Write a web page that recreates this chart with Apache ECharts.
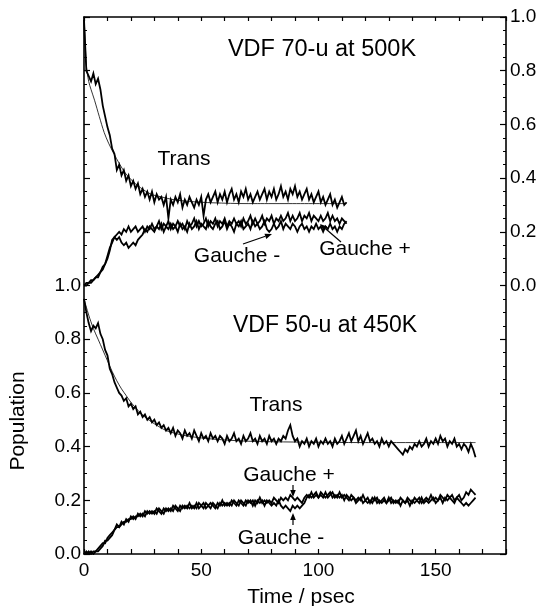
<!DOCTYPE html>
<html><head><meta charset="utf-8">
<script src="https://cdn.jsdelivr.net/npm/echarts@6/dist/echarts.min.js"></script>
<style>html,body{margin:0;padding:0;background:#fff}#c{width:542px;height:606px}</style>
</head><body><div id="c"></div>
<script>
// ---- Data (sampled every 1 psec) ----
const timeStep = 1;

// Upper panel: VDF 70-u at 500K (right axis)
const transTop = [
0.99,0.80,0.78,0.76,0.79,0.75,0.77,0.73,0.67,0.63,0.59,0.56,0.51,0.49,0.43,0.45,0.41,0.43,0.39,0.41,
0.37,0.39,0.36,0.38,0.34,0.36,0.33,0.35,0.32,0.35,0.31,0.34,0.32,0.33,0.30,0.33,0.25,0.32,0.30,0.33,
0.31,0.34,0.29,0.32,0.30,0.33,0.31,0.29,0.32,0.30,0.33,0.26,0.32,0.34,0.31,0.33,0.35,0.31,0.34,0.32,
0.35,0.31,0.34,0.36,0.32,0.34,0.31,0.35,0.33,0.36,0.32,0.34,0.31,0.33,0.35,0.32,0.34,0.36,0.32,0.35,
0.33,0.36,0.32,0.34,0.37,0.33,0.35,0.32,0.36,0.34,0.37,0.33,0.35,0.32,0.34,0.36,0.32,0.34,0.31,0.33,
0.35,0.31,0.33,0.30,0.32,0.34,0.30,0.32,0.29,0.31,0.33,0.30,0.31];
const gplusTop = [
0.00,0.01,0.01,0.02,0.02,0.03,0.04,0.05,0.07,0.08,0.10,0.13,0.17,0.18,0.19,0.20,0.19,0.21,0.20,0.22,
0.20,0.21,0.22,0.20,0.21,0.22,0.20,0.22,0.21,0.23,0.21,0.22,0.24,0.21,0.23,0.22,0.24,0.21,0.23,0.22,
0.24,0.22,0.23,0.21,0.24,0.22,0.23,0.25,0.22,0.24,0.22,0.23,0.25,0.22,0.24,0.23,0.25,0.22,0.24,0.23,
0.25,0.22,0.24,0.23,0.25,0.23,0.24,0.22,0.25,0.23,0.24,0.26,0.23,0.25,0.23,0.24,0.26,0.23,0.25,0.24,
0.26,0.23,0.25,0.24,0.26,0.24,0.25,0.27,0.24,0.26,0.24,0.25,0.27,0.24,0.26,0.25,0.27,0.24,0.26,0.25,
0.24,0.26,0.24,0.25,0.27,0.24,0.26,0.24,0.25,0.23,0.25,0.24,0.23];
const gminusTop = [
0.00,0.00,0.01,0.01,0.02,0.03,0.03,0.05,0.06,0.08,0.11,0.14,0.16,0.18,0.17,0.18,0.16,0.15,0.16,0.14,
0.15,0.16,0.15,0.17,0.18,0.19,0.21,0.20,0.22,0.21,0.20,0.22,0.21,0.23,0.20,0.22,0.21,0.23,0.21,0.22,
0.20,0.23,0.21,0.22,0.20,0.23,0.21,0.22,0.24,0.21,0.23,0.22,0.21,0.24,0.22,0.21,0.23,0.24,0.21,0.22,
0.24,0.21,0.23,0.22,0.20,0.23,0.22,0.24,0.21,0.22,0.23,0.21,0.24,0.22,0.23,0.21,0.22,0.24,0.21,0.20,
0.21,0.23,0.21,0.22,0.24,0.21,0.23,0.22,0.21,0.23,0.22,0.20,0.22,0.23,0.21,0.22,0.20,0.22,0.21,0.23,
0.21,0.22,0.20,0.22,0.21,0.23,0.21,0.22,0.20,0.22,0.21,0.23,0.24];
const fitTopTime = [0,0.3,1,2,3,4.5,6.5,8.6,10.5,12.8,15,17.5,20,24,28.6,33,38,45,55,70,112];
const fitTopTrans = [1.0,0.95,0.82,0.76,0.73,0.69,0.63,0.57,0.53,0.49,0.455,0.42,0.395,0.365,0.34,0.33,0.32,0.313,0.308,0.305,0.305];

// Lower panel: VDF 50-u at 450K (left axis)
const transBot = [
0.95,0.90,0.86,0.83,0.85,0.84,0.86,0.82,0.80,0.76,0.74,0.69,0.67,0.64,0.62,0.60,0.59,0.57,0.58,0.55,
0.56,0.54,0.55,0.52,0.53,0.51,0.52,0.50,0.51,0.49,0.50,0.48,0.49,0.47,0.48,0.46,0.47,0.45,0.47,0.44,
0.46,0.45,0.43,0.46,0.44,0.45,0.43,0.46,0.44,0.42,0.45,0.43,0.44,0.42,0.45,0.43,0.44,0.42,0.44,0.43,
0.41,0.44,0.42,0.43,0.45,0.42,0.43,0.41,0.44,0.42,0.43,0.45,0.42,0.43,0.41,0.44,0.42,0.43,0.41,0.44,
0.42,0.43,0.41,0.43,0.42,0.44,0.43,0.46,0.48,0.44,0.42,0.43,0.40,0.42,0.41,0.43,0.40,0.42,0.41,0.43,
0.40,0.42,0.41,0.43,0.41,0.42,0.40,0.43,0.41,0.42,0.44,0.41,0.43,0.45,0.42,0.44,0.46,0.42,0.44,0.41,
0.43,0.45,0.42,0.43,0.41,0.42,0.40,0.43,0.41,0.42,0.40,0.42,0.41,0.40,0.39,0.38,0.37,0.39,0.38,0.40,
0.39,0.41,0.40,0.42,0.40,0.41,0.43,0.40,0.42,0.41,0.43,0.41,0.44,0.42,0.43,0.40,0.42,0.41,0.43,0.40,
0.41,0.39,0.41,0.40,0.38,0.41,0.39,0.36];
const gplusBot = [
0.00,0.00,0.01,0.00,0.01,0.01,0.01,0.02,0.03,0.05,0.05,0.06,0.07,0.09,0.10,0.10,0.11,0.12,0.12,0.13,
0.13,0.14,0.13,0.15,0.14,0.15,0.14,0.16,0.15,0.16,0.15,0.17,0.16,0.15,0.17,0.16,0.17,0.16,0.18,0.17,
0.16,0.18,0.17,0.18,0.17,0.19,0.17,0.18,0.17,0.19,0.18,0.17,0.19,0.18,0.19,0.18,0.17,0.19,0.18,0.20,
0.18,0.19,0.18,0.20,0.19,0.18,0.20,0.19,0.18,0.20,0.19,0.20,0.18,0.20,0.19,0.21,0.19,0.20,0.19,0.20,
0.19,0.21,0.20,0.19,0.21,0.20,0.21,0.20,0.22,0.21,0.20,0.21,0.20,0.19,0.21,0.22,0.21,0.23,0.21,0.22,
0.21,0.23,0.22,0.21,0.22,0.23,0.21,0.22,0.21,0.23,0.21,0.22,0.21,0.20,0.22,0.21,0.20,0.21,0.20,0.22,
0.20,0.21,0.19,0.21,0.20,0.21,0.19,0.20,0.21,0.19,0.20,0.21,0.19,0.20,0.19,0.21,0.20,0.19,0.21,0.20,
0.19,0.21,0.20,0.21,0.19,0.20,0.21,0.20,0.22,0.20,0.21,0.20,0.22,0.21,0.20,0.22,0.21,0.22,0.20,0.21,
0.22,0.20,0.21,0.23,0.22,0.24,0.23,0.22];
const gminusBot = [
0.00,0.01,0.00,0.01,0.00,0.01,0.02,0.03,0.04,0.04,0.06,0.07,0.08,0.09,0.11,0.10,0.12,0.11,0.13,0.12,
0.14,0.13,0.14,0.14,0.15,0.14,0.16,0.15,0.16,0.15,0.16,0.15,0.17,0.16,0.15,0.17,0.16,0.17,0.16,0.18,
0.17,0.16,0.18,0.17,0.18,0.17,0.18,0.17,0.19,0.17,0.18,0.19,0.17,0.18,0.17,0.19,0.18,0.17,0.19,0.18,
0.19,0.18,0.19,0.18,0.20,0.19,0.18,0.20,0.19,0.18,0.20,0.19,0.20,0.18,0.20,0.19,0.20,0.18,0.20,0.19,
0.18,0.19,0.18,0.20,0.18,0.17,0.18,0.17,0.16,0.18,0.17,0.18,0.17,0.18,0.19,0.21,0.22,0.21,0.22,0.23,
0.21,0.22,0.21,0.23,0.21,0.22,0.23,0.21,0.22,0.21,0.22,0.20,0.22,0.21,0.20,0.21,0.19,0.20,0.21,0.19,
0.20,0.19,0.20,0.19,0.21,0.19,0.20,0.19,0.20,0.19,0.21,0.19,0.20,0.19,0.20,0.18,0.20,0.19,0.20,0.18,
0.20,0.19,0.20,0.19,0.21,0.19,0.20,0.19,0.20,0.21,0.19,0.20,0.21,0.19,0.21,0.20,0.21,0.20,0.19,0.21,
0.20,0.19,0.18,0.19,0.18,0.19,0.20,0.21];
const fitBotTime = [0,2,4,6,8,10,12,14,16,18,20,23,26,30,35,40,45,55,70,90,120,167];
const fitBotTrans = [0.95,0.89,0.84,0.80,0.76,0.72,0.68,0.645,0.615,0.59,0.565,0.535,0.51,0.485,0.46,0.447,0.438,0.428,0.42,0.417,0.415,0.415];

const xTickLabels = [0, 50, 100, 150];
const yTickLabels = [0.0, 0.2, 0.4, 0.6, 0.8, 1.0];

// ---- helpers ----
const pairs = (vals, times) => vals.map((v, i) => [times ? times[i] : i * timeStep, v]);
const FONT = '"Liberation Sans", Arial, Helvetica, sans-serif';
const black = '#000';
const axisLine = { show: true, onZero: false, lineStyle: { color: black, width: 1.6 } };
const noSplit = { show: false };
const hasLabel = (v) => yTickLabels.some(t => Math.abs(t - v) < 1e-6);

const chart = echarts.init(document.getElementById('c'), null, { renderer: 'canvas' });

function noisy(name, vals, yIdx) {
  return { type: 'line', name, yAxisIndex: yIdx, data: pairs(vals), showSymbol: false, symbol: 'none',
    lineStyle: { color: black, width: 1.8, join: 'miter' }, z: 3, silent: true };
}
function fit(name, times, vals, yIdx) {
  return { type: 'line', name, yAxisIndex: yIdx, data: pairs(vals, times), showSymbol: false, symbol: 'none',
    smooth: 0.3, lineStyle: { color: black, width: 0.8 }, z: 2, silent: true };
}

function txt(text, x, y, size, rot) {
  return { type: 'text', x, y, rotation: rot || 0, z: 10,
    style: { text, fill: black, font: `${size}px ${FONT}`, textAlign: 'center', textVerticalAlign: 'middle' } };
}
function arrow(x1, y1, x2, y2) {
  const dx = x2 - x1, dy = y2 - y1, L = Math.hypot(dx, dy), ux = dx / L, uy = dy / L;
  const hl = 7, hw = 2.8, bx = x2 - ux * hl, by = y2 - uy * hl;
  return [
    { type: 'line', z: 10, shape: { x1, y1, x2: bx, y2: by }, style: { stroke: black, lineWidth: 1.2 } },
    { type: 'polygon', z: 10, shape: { points: [[x2, y2], [bx - uy * hw, by + ux * hw], [bx + uy * hw, by - ux * hw]] }, style: { fill: black } }
  ];
}

chart.setOption({
  animation: false,
  backgroundColor: '#fff',
  grid: { left: 84, right: 36, top: 17, bottom: 52, containLabel: false },
  xAxis: [
    { type: 'value', position: 'bottom', min: 0, max: 180, interval: 10,
      axisLine, splitLine: noSplit,
      axisTick: { inside: true, length: 5, lineStyle: { color: black, width: 1.2 } },
      axisLabel: { color: black, fontSize: 19, fontFamily: FONT, margin: 7,
        formatter: v => xTickLabels.includes(Math.round(v)) && Math.abs(v - Math.round(v)) < 1e-6 ? String(Math.round(v)) : '' } },
    { type: 'value', position: 'top', min: 0, max: 180, interval: 10,
      axisLine, splitLine: noSplit,
      axisTick: { inside: true, length: 4, lineStyle: { color: black, width: 1.2 } },
      axisLabel: { show: false } }
  ],
  yAxis: [
    { type: 'value', position: 'left', min: 0, max: 2, interval: 0.2,
      axisLine, splitLine: noSplit,
      axisTick: { inside: true, length: 6, lineStyle: { color: black, width: 1.2 } },
      minorTick: { show: true, splitNumber: 4, length: 3, lineStyle: { color: black, width: 1 } },
      minorSplitLine: { show: false },
      axisLabel: { color: black, fontSize: 19, fontFamily: FONT, margin: 3,
        showMaxLabel: false, formatter: v => hasLabel(v) ? v.toFixed(1) : '' } },
    { type: 'value', position: 'right', min: -1, max: 1, interval: 0.2,
      axisLine, splitLine: noSplit,
      axisTick: { inside: true, length: 6, lineStyle: { color: black, width: 1.2 } },
      minorTick: { show: true, splitNumber: 4, length: 3, lineStyle: { color: black, width: 1 } },
      minorSplitLine: { show: false },
      axisLabel: { color: black, fontSize: 19, fontFamily: FONT, margin: 4,
        showMinLabel: false, formatter: v => hasLabel(v) ? v.toFixed(1) : '' } }
  ],
  series: [
    fit('Trans fit (70-u)', fitTopTime, fitTopTrans, 1),
    noisy('Trans (70-u)', transTop, 1),
    noisy('Gauche + (70-u)', gplusTop, 1),
    noisy('Gauche - (70-u)', gminusTop, 1),
    fit('Trans fit (50-u)', fitBotTime, fitBotTrans, 0),
    noisy('Trans (50-u)', transBot, 0),
    noisy('Gauche + (50-u)', gplusBot, 0),
    noisy('Gauche - (50-u)', gminusBot, 0)
  ],
  graphic: [
    txt('VDF 70-u at 500K', 322, 50, 23.5),
    txt('Trans', 184, 159, 21),
    txt('Gauche -', 237, 256, 21),
    txt('Gauche +', 365, 249, 21),
    txt('VDF 50-u at 450K', 325, 326, 23),
    txt('Trans', 276, 405, 21),
    txt('Gauche +', 289, 475, 21),
    txt('Gauche -', 281, 538, 21),
    txt('Population', 18, 421, 21, Math.PI / 2),
    txt('Time / psec', 301, 597, 21),
    ...arrow(243, 244, 272, 234),
    ...arrow(341, 242, 320, 224),
    ...arrow(293, 485, 293, 497),
    ...arrow(293, 525, 293, 513)
  ]
});
</script>
</body></html>
